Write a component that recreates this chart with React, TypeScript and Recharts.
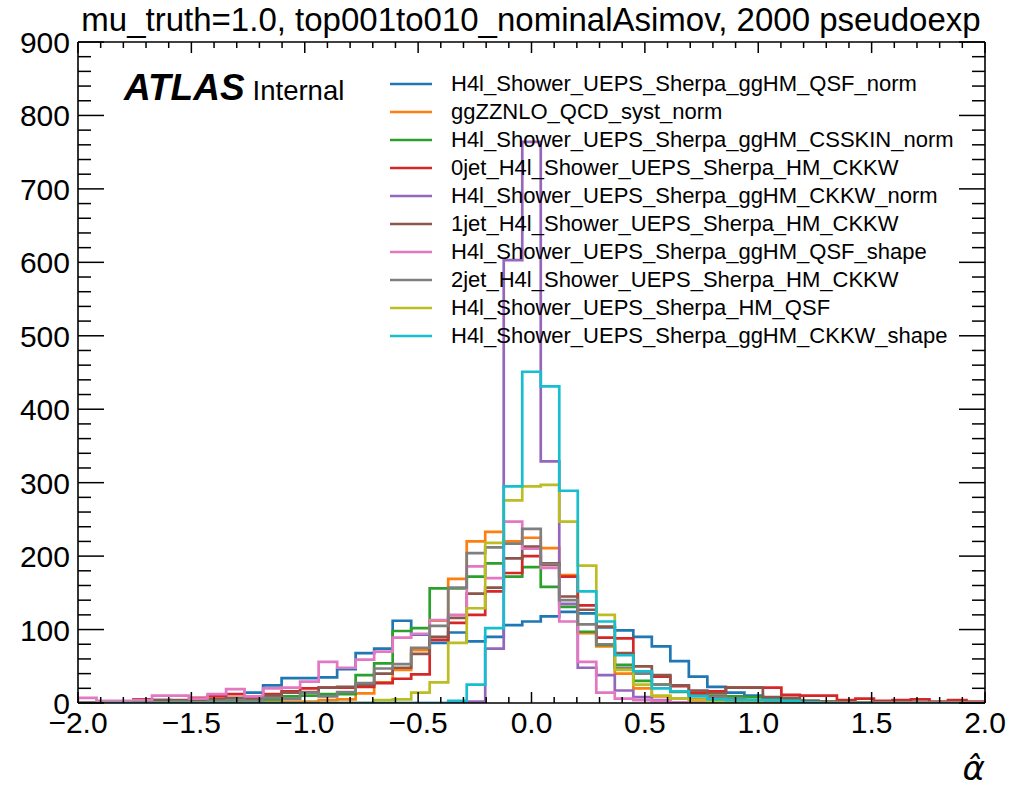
import { LineChart, Line, XAxis, YAxis, Legend } from 'recharts'

const X_MIN = -2
const X_MAX = 2
const N_BINS = 49
const Y_MAX = 900
const FONT = "'Liberation Sans', Arial, Helvetica, sans-serif"

const seriesNames = [
  'H4l_Shower_UEPS_Sherpa_ggHM_QSF_norm',
  'ggZZNLO_QCD_syst_norm',
  'H4l_Shower_UEPS_Sherpa_ggHM_CSSKIN_norm',
  '0jet_H4l_Shower_UEPS_Sherpa_HM_CKKW',
  'H4l_Shower_UEPS_Sherpa_ggHM_CKKW_norm',
  '1jet_H4l_Shower_UEPS_Sherpa_HM_CKKW',
  'H4l_Shower_UEPS_Sherpa_ggHM_QSF_shape',
  '2jet_H4l_Shower_UEPS_Sherpa_HM_CKKW',
  'H4l_Shower_UEPS_Sherpa_HM_QSF',
  'H4l_Shower_UEPS_Sherpa_ggHM_CKKW_shape',
]
const seriesColors = [
  '#1f77b4', '#ff7f0e', '#2ca02c', '#d62728', '#9467bd',
  '#8c564b', '#e377c2', '#7f7f7f', '#bcbd22', '#17becf',
]

// counts per bin, 49 bins from -2 to 2
const qsfNorm = [1, 1, 1, 2, 4, 3, 3, 5, 6, 14, 24, 34, 34, 35, 46, 68, 74, 112, 93, 82, 96, 84, 90, 106, 111, 118, 124, 122, 103, 99, 90, 77, 57, 36, 22, 14, 10, 5, 4, 2, 1, 1, 0, 0, 0, 0, 0, 0, 0]
const ggzzNorm = [0, 0, 0, 0, 0, 0, 0, 0, 0, 1, 2, 2, 2, 4, 5, 13, 28, 45, 72, 112, 169, 220, 233, 220, 225, 211, 174, 95, 77, 40, 20, 9, 6, 5, 3, 2, 1, 1, 0, 0, 0, 0, 0, 0, 0, 0, 0, 0, 0]
const csskinNorm = [0, 0, 0, 0, 0, 0, 0, 1, 2, 2, 5, 9, 10, 12, 12, 38, 54, 98, 102, 156, 156, 172, 190, 172, 185, 158, 131, 97, 79, 52, 30, 25, 15, 12, 9, 9, 8, 6, 4, 3, 2, 1, 0, 0, 0, 0, 0, 0, 0]
const jet0Ckkw = [1, 1, 2, 5, 3, 3, 7, 9, 12, 8, 12, 16, 20, 21, 21, 22, 27, 33, 39, 86, 109, 120, 152, 177, 200, 188, 172, 133, 89, 88, 42, 36, 23, 14, 16, 21, 21, 21, 11, 10, 10, 4, 6, 3, 4, 5, 2, 4, 2]
const ckkwNorm = [0, 0, 0, 0, 0, 0, 0, 0, 0, 0, 0, 0, 0, 0, 0, 0, 0, 0, 0, 0, 0, 2, 74, 603, 764, 329, 135, 48, 38, 17, 8, 4, 1, 0, 0, 0, 0, 0, 0, 0, 0, 0, 0, 0, 0, 0, 0, 0, 0]
const jet1Ckkw = [0, 0, 1, 1, 4, 4, 3, 5, 7, 6, 10, 14, 15, 21, 22, 25, 40, 48, 67, 90, 116, 149, 157, 197, 213, 190, 145, 127, 104, 68, 50, 38, 24, 17, 13, 21, 21, 8, 7, 3, 2, 1, 1, 0, 0, 0, 0, 0, 0]
const qsfShape = [7, 3, 3, 4, 10, 10, 6, 12, 19, 9, 20, 21, 29, 56, 48, 59, 70, 89, 94, 113, 120, 186, 170, 247, 210, 184, 111, 56, 14, 6, 4, 3, 1, 1, 0, 0, 0, 0, 0, 0, 0, 0, 0, 0, 0, 0, 0, 0, 0]
const jet2Ckkw = [0, 0, 0, 1, 1, 2, 1, 3, 4, 3, 7, 6, 14, 9, 15, 27, 47, 53, 75, 105, 157, 204, 212, 217, 237, 189, 140, 107, 80, 48, 40, 25, 16, 10, 8, 6, 4, 3, 2, 1, 0, 0, 0, 0, 0, 0, 0, 0, 0]
const hmQsf = [0, 0, 0, 0, 0, 0, 0, 0, 0, 0, 0, 0, 0, 0, 0, 0, 4, 5, 14, 28, 82, 129, 218, 276, 295, 297, 247, 187, 120, 45, 25, 10, 6, 4, 2, 1, 1, 0, 0, 0, 0, 0, 0, 0, 0, 0, 0, 0, 0]
const ckkwShape = [0, 0, 0, 0, 0, 0, 0, 0, 0, 0, 0, 0, 0, 0, 0, 0, 0, 0, 0, 0, 3, 25, 102, 295, 451, 431, 289, 152, 111, 65, 43, 20, 16, 9, 5, 4, 4, 4, 3, 1, 0, 0, 0, 0, 0, 0, 0, 0, 0]

const seriesValues = [qsfNorm, ggzzNorm, csskinNorm, jet0Ckkw, ckkwNorm, jet1Ckkw, qsfShape, jet2Ckkw, hmQsf, ckkwShape]

const xMajorTicks = [-2, -1.5, -1, -0.5, 0, 0.5, 1, 1.5, 2]
const xTickLabels = ['\u22122.0', '\u22121.5', '\u22121.0', '\u22120.5', '0.0', '0.5', '1.0', '1.5', '2.0']
const yMajorTicks = [0, 100, 200, 300, 400, 500, 600, 700, 800, 900]
const yTickLabels = ['0', '100', '200', '300', '400', '500', '600', '700', '800', '900']
const X_MINOR_STEP = 0.1
const Y_MINOR_STEP = 20

const xTicks = Array.from({ length: Math.round((X_MAX - X_MIN) / X_MINOR_STEP) + 1 }, (_, i) => Math.round((X_MIN + i * X_MINOR_STEP) * 10) / 10)
const yTicks = Array.from({ length: Y_MAX / Y_MINOR_STEP + 1 }, (_, i) => i * Y_MINOR_STEP)

// step outline: baseline -> each bin's left edge -> right edge -> baseline
const keys = seriesNames.map((_, i) => `s${i}`)
const edges = Array.from({ length: N_BINS + 1 }, (_, k) => X_MIN + ((X_MAX - X_MIN) * k) / N_BINS)
const rows: Record<string, number>[] = []
rows.push(Object.fromEntries([['x', X_MIN], ...keys.map((k) => [k, 0])]))
for (let b = 0; b < N_BINS; b++) {
  rows.push(Object.fromEntries([['x', edges[b]], ...keys.map((k, i) => [k, seriesValues[i][b]])]))
}
rows.push(Object.fromEntries([['x', X_MAX], ...keys.map((k, i) => [k, seriesValues[i][N_BINS - 1]])]))
rows.push(Object.fromEntries([['x', X_MAX], ...keys.map((k) => [k, 0])]))

const findIdx = (arr: number[], v: number) => arr.findIndex((t) => Math.abs(t - v) < 1e-6)

function XTick(props: any) {
  const { x, y, payload, side } = props
  const idx = findIdx(xMajorTicks, payload.value)
  const len = idx >= 0 ? 11 : 6
  const dir = side === 'bottom' ? -1 : 1
  return (
    <g>
      <line x1={x} x2={x} y1={y} y2={y + dir * len} stroke="#000" strokeWidth={1.5} />
      {side === 'bottom' && idx >= 0 && (
        <text x={x} y={y + 30} textAnchor="middle" fontSize={30} fontFamily={FONT} fill="#000">
          {xTickLabels[idx]}
        </text>
      )}
    </g>
  )
}

function YTick(props: any) {
  const { x, y, payload, side } = props
  const idx = findIdx(yMajorTicks, payload.value)
  const len = idx >= 0 ? 26 : 13
  const dir = side === 'left' ? 1 : -1
  return (
    <g>
      <line x1={x} x2={x + dir * len} y1={y} y2={y} stroke="#000" strokeWidth={1.5} />
      {side === 'left' && idx >= 0 && (
        <text x={x - 8} y={y + 11} textAnchor="end" fontSize={30} fontFamily={FONT} fill="#000">
          {yTickLabels[idx]}
        </text>
      )}
    </g>
  )
}

function LegendBox() {
  return (
    <div style={{ fontFamily: FONT, fontSize: 22, color: '#000' }}>
      {seriesNames.map((name, i) => (
        <div key={name} style={{ display: 'flex', alignItems: 'center', height: 28 }}>
          <svg width={42} height={4} style={{ marginRight: 19 }}>
            <line x1={0} x2={42} y1={2} y2={2} stroke={seriesColors[i]} strokeWidth={2.7} />
          </svg>
          <span style={{ whiteSpace: 'nowrap', lineHeight: '28px' }}>{name}</span>
        </div>
      ))}
    </div>
  )
}

const axisLine = { stroke: '#000', strokeWidth: 1.6 }

export default function App() {
  return (
    <div style={{ position: 'absolute', left: 0, top: 0, width: 1019, height: 793, background: '#fff' }}>
      <LineChart width={1019} height={793} data={rows} margin={{ top: 41, right: 33, bottom: 89, left: 77 }}>
        <XAxis xAxisId="b" dataKey="x" type="number" domain={[X_MIN, X_MAX]} allowDataOverflow ticks={xTicks} interval={0}
          height={1} tickSize={0} tickMargin={0} tickLine={false} axisLine={axisLine}
          tick={(p: any) => <XTick {...p} side="bottom" />} />
        <XAxis xAxisId="t" orientation="top" dataKey="x" type="number" domain={[X_MIN, X_MAX]} allowDataOverflow ticks={xTicks} interval={0}
          height={1} tickSize={0} tickMargin={0} tickLine={false} axisLine={axisLine}
          tick={(p: any) => <XTick {...p} side="top" />} />
        <YAxis yAxisId="l" type="number" domain={[0, Y_MAX]} allowDataOverflow ticks={yTicks} interval={0}
          width={1} tickSize={0} tickMargin={0} tickLine={false} axisLine={axisLine}
          tick={(p: any) => <YTick {...p} side="left" />} />
        <YAxis yAxisId="r" orientation="right" type="number" domain={[0, Y_MAX]} allowDataOverflow ticks={yTicks} interval={0}
          width={1} tickSize={0} tickMargin={0} tickLine={false} axisLine={axisLine}
          tick={(p: any) => <YTick {...p} side="right" />} />
        {keys.map((k, i) => (
          <Line key={k} xAxisId="b" yAxisId="l" type="stepAfter" dataKey={k} name={seriesNames[i]}
            stroke={seriesColors[i]} strokeWidth={2.7} dot={false} activeDot={false} isAnimationActive={false} />
        ))}
        <Legend layout="vertical" align="center" verticalAlign="middle" content={<LegendBox />}
          wrapperStyle={{ left: 390, top: 70, width: 600, height: 290 }} />
      </LineChart>

      <div style={{ position: 'absolute', left: 0, width: 1062, top: 1, textAlign: 'center', fontFamily: FONT, fontSize: 33, whiteSpace: 'nowrap' }}>
        mu_truth=1.0, top001to010_nominalAsimov, 2000 pseudoexp
      </div>
      <div style={{ position: 'absolute', left: 124, top: 67, fontFamily: FONT, whiteSpace: 'nowrap' }}>
        <span style={{ fontSize: 37, fontWeight: 'bold', fontStyle: 'italic' }}>ATLAS</span>
        <span style={{ fontSize: 27.5, marginLeft: 8 }}>Internal</span>
      </div>
      <div style={{ position: 'absolute', right: 34, top: 748, fontFamily: "'DejaVu Sans', sans-serif", fontSize: 34, fontStyle: 'italic' }}>
        {'\u03b1\u0302'}
      </div>
    </div>
  )
}
